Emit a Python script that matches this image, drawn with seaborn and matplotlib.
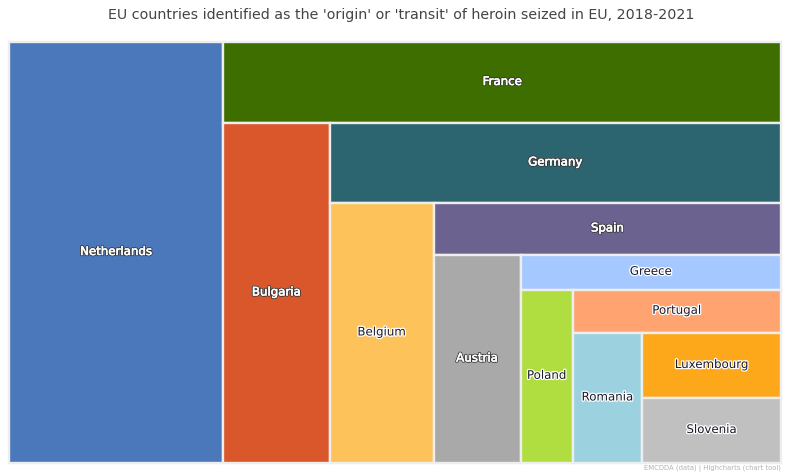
import matplotlib
matplotlib.use("Agg")
import matplotlib.pyplot as plt
import matplotlib.patheffects as pe
import seaborn as sns

countries = ["Netherlands", "France", "Bulgaria", "Germany", "Belgium", "Spain", "Austria",
             "Greece", "Poland", "Portugal", "Romania", "Luxembourg", "Slovenia"]
counts = [20, 10, 8, 8, 6, 4, 4, 2, 2, 2, 2, 2, 2]
colours = ["#4A78BB", "#3F6E00", "#D9572A", "#2C6570", "#FDC35A", "#6C6290", "#A9A9A9",
           "#A4C8FF", "#B0DE40", "#FFA471", "#9CD2DF", "#FDA81A", "#C0C0C0"]
dark_fill = ["Netherlands", "France", "Bulgaria", "Germany", "Spain", "Austria"]
title = "EU countries identified as the 'origin' or 'transit' of heroin seized in EU, 2018-2021"
credit = "EMCDDA (data) | Highcharts (chart tool)"

sns.set_theme(style="white", rc={"font.family": ["DejaVu Sans"]})
palette = sns.color_palette(colours)

W, H = 790, 476
fig = plt.figure(figsize=(W / 100, H / 100), dpi=100, facecolor="white")
ax = fig.add_axes([9 / W, (H - 463) / H, 772 / W, 421 / H])
ax.set_xlim(0, 1)
ax.set_ylim(0, 1)
ax.axis("off")

# slice-and-dice layout: each item takes its share of what remains, alternating direction
x0, y0, x1, y1 = 0.0, 0.0, 1.0, 1.0
remaining = sum(counts)
for i, (name, value, colour) in enumerate(zip(countries, counts, palette)):
    share = value / remaining
    if i % 2 == 0:
        left, width = x0, (x1 - x0) * share
        bottom, height = y0, y1 - y0
        x0 += width
    else:
        left, width = x0, x1 - x0
        height = (y1 - y0) * share
        bottom = y1 - height
        y1 -= height
    remaining -= value
    ax.bar(left, height, width=width, bottom=bottom, align="edge", color=colour,
           edgecolor="#EEEEEE", linewidth=1.7, clip_on=False)
    dark = name in dark_fill
    if dark:
        effects = [pe.Stroke(linewidth=1.6, foreground="#333333"),
                   pe.Stroke(linewidth=0.45, foreground="white"), pe.Normal()]
    else:
        effects = [pe.Stroke(linewidth=1.8, foreground="white"), pe.Normal()]
    ax.text(left + width / 2, bottom + height / 2 + 1 / 421, name, ha="center", va="center",
            fontsize=8.5, color="white" if dark else "#1A1A2A", path_effects=effects)

fig.text(401 / W, 1 - 15.5 / H, title, ha="center", va="center", fontsize=10.25, color="#444444")
fig.text(781 / W, 1 - 468.5 / H, credit, ha="right", va="center", fontsize=4.95, color="#B4B4B4")
fig.savefig("out.png", dpi=100, facecolor="white")
